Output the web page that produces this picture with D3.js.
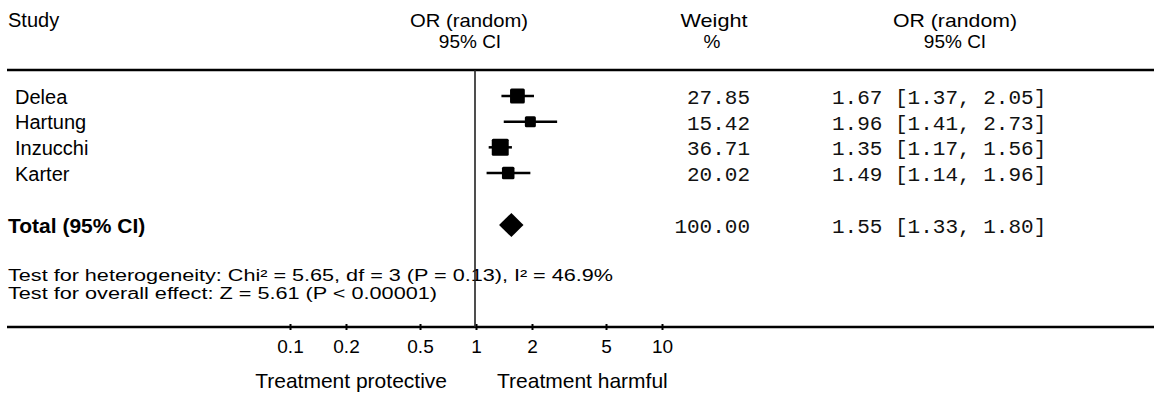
<!DOCTYPE html>
<html><head><meta charset="utf-8">
<script src="https://cdn.jsdelivr.net/npm/d3@7"></script>
<style>
html,body{margin:0;padding:0;background:#fff;}
svg{display:block;}
.sans{font-family:"Liberation Sans",Arial,sans-serif;}
.mono{font-family:"Liberation Mono","Courier New",monospace;}
</style></head>
<body>
<svg id="c" width="1154" height="394"></svg>
<script>
// ---- data ----
const studies = ["Delea", "Hartung", "Inzucchi", "Karter"];
const orValues = [1.67, 1.96, 1.35, 1.49];
const ciLow = [1.37, 1.41, 1.17, 1.14];
const ciHigh = [2.05, 2.73, 1.56, 1.96];
const weights = [27.85, 15.42, 36.71, 20.02];
const weightLabels = ["27.85", "15.42", "36.71", "20.02"];
const ciLabels = ["1.67 [1.37, 2.05]", "1.96 [1.41, 2.73]", "1.35 [1.17, 1.56]", "1.49 [1.14, 1.96]"];
const total = {label: "Total (95% CI)", or: 1.55, lo: 1.33, hi: 1.80, weight: "100.00", ci: "1.55 [1.33, 1.80]"};
const tickValues = [0.1, 0.2, 0.5, 1, 2, 5, 10];
const tickLabels = ["0.1", "0.2", "0.5", "1", "2", "5", "10"];
const heterogeneityText = "Test for heterogeneity: Chi\u00B2 = 5.65, df = 3 (P = 0.13), I\u00B2 = 46.9%";
const overallText = "Test for overall effect: Z = 5.61 (P < 0.00001)";
const axisLeftLabel = "Treatment protective";
const axisRightLabel = "Treatment harmful";

// ---- layout ----
const svg = d3.select("#c");
const x = d3.scaleLog().domain([0.1, 10]).range([290, 662]);
const y = d3.scalePoint().domain(studies).range([96, 173]);
const yTotal = 225;
const size = d3.scaleSqrt().domain([0, 100]).range([0, 28]);
const topLine = 70, axisY = 327;

// header
const hdr = svg.append("g").attr("class", "sans").attr("font-size", 19).attr("fill", "#000");
hdr.append("text").attr("x", 8).attr("y", 27).attr("font-size", 20).text("Study");
hdr.append("text").attr("x", 469).attr("y", 27).attr("text-anchor", "middle").attr("textLength", 118).attr("lengthAdjust", "spacingAndGlyphs").text("OR (random)");
hdr.append("text").attr("x", 470).attr("y", 48).attr("text-anchor", "middle").text("95% CI");
hdr.append("text").attr("x", 714).attr("y", 27).attr("text-anchor", "middle").attr("textLength", 67).attr("lengthAdjust", "spacingAndGlyphs").text("Weight");
hdr.append("text").attr("x", 712).attr("y", 48).attr("text-anchor", "middle").text("%");
hdr.append("text").attr("x", 955).attr("y", 27).attr("text-anchor", "middle").attr("textLength", 124).attr("lengthAdjust", "spacingAndGlyphs").text("OR (random)");
hdr.append("text").attr("x", 955).attr("y", 48).attr("text-anchor", "middle").text("95% CI");

// top rule
svg.append("line").attr("x1", 7).attr("x2", 1154).attr("y1", topLine).attr("y2", topLine)
  .attr("stroke", "#000").attr("stroke-width", 2.5);

// study names
const rows = svg.append("g");
rows.selectAll("text.name").data(studies).join("text")
  .attr("class", "sans name").attr("font-size", 20)
  .attr("x", 15).attr("y", d => y(d) + 7.5).text(d => d);

// CI lines
rows.selectAll("line.ci").data(studies).join("line")
  .attr("class", "ci")
  .attr("x1", (d, i) => x(ciLow[i])).attr("x2", (d, i) => x(ciHigh[i]))
  .attr("y1", d => y(d)).attr("y2", d => y(d))
  .attr("stroke", "#000").attr("stroke-width", 2.5);

// squares
rows.selectAll("rect.box").data(studies).join("rect")
  .attr("class", "box")
  .attr("x", (d, i) => x(orValues[i]) - size(weights[i]) / 2)
  .attr("y", (d, i) => y(d) - size(weights[i]) / 2)
  .attr("width", (d, i) => size(weights[i]))
  .attr("height", (d, i) => size(weights[i]))
  .attr("rx", 1.5)
  .attr("fill", "#000");

// weights & CI text
rows.selectAll("text.w").data(studies).join("text")
  .attr("class", "mono w").attr("font-size", 21).attr("fill", "#111")
  .attr("x", 750).attr("text-anchor", "end").attr("y", d => y(d) + 8)
  .text((d, i) => weightLabels[i]);
rows.selectAll("text.cil").data(studies).join("text")
  .attr("class", "mono cil").attr("font-size", 21).attr("fill", "#111")
  .attr("x", 832).attr("y", d => y(d) + 8)
  .text((d, i) => ciLabels[i]);

// total
svg.append("text").attr("class", "sans").attr("font-size", 21).attr("font-weight", "bold")
  .attr("x", 8).attr("y", yTotal + 7.5).text(total.label);
const dh = 12;
svg.append("path")
  .attr("d", `M${x(total.lo)},${yTotal} L${x(total.or)},${yTotal - dh} L${x(total.hi)},${yTotal} L${x(total.or)},${yTotal + dh} Z`)
  .attr("fill", "#000");
svg.append("text").attr("class", "mono").attr("font-size", 21).attr("fill", "#111")
  .attr("x", 750).attr("text-anchor", "end").attr("y", yTotal + 8).text(total.weight);
svg.append("text").attr("class", "mono").attr("font-size", 21).attr("fill", "#111")
  .attr("x", 832).attr("y", yTotal + 8).text(total.ci);

// tests
svg.append("text").attr("class", "sans").attr("font-size", 16).attr("x", 8).attr("y", 281)
  .attr("textLength", 605).attr("lengthAdjust", "spacingAndGlyphs").text(heterogeneityText);
svg.append("text").attr("class", "sans").attr("font-size", 16).attr("x", 8).attr("y", 299)
  .attr("textLength", 429).attr("lengthAdjust", "spacingAndGlyphs").text(overallText);

// axis
svg.append("line").attr("x1", 7).attr("x2", 1154).attr("y1", axisY).attr("y2", axisY)
  .attr("stroke", "#000").attr("stroke-width", 2.5);
const ax = d3.axisBottom(x).tickValues(tickValues).tickFormat((d, i) => tickLabels[i]).tickSize(6).tickPadding(9.5);
const axg = svg.append("g").attr("transform", `translate(0,${axisY - 3})`).call(ax);
axg.select(".domain").remove();
axg.selectAll(".tick line").attr("stroke", "#000").attr("stroke-width", 2);
axg.selectAll(".tick text").attr("font-family", "Liberation Sans, Arial, sans-serif").attr("font-size", 19).attr("fill", "#000");

// vertical line of no effect
svg.append("line").attr("x1", x(1) - 1).attr("x2", x(1) - 1).attr("y1", topLine).attr("y2", axisY)
  .attr("stroke", "#222").attr("stroke-width", 1.6);

// axis labels
svg.append("text").attr("class", "sans").attr("font-size", 21).attr("text-anchor", "end")
  .attr("x", x(1) - 29).attr("y", 388).text(axisLeftLabel);
svg.append("text").attr("class", "sans").attr("font-size", 21)
  .attr("x", x(1) + 21).attr("y", 388).text(axisRightLabel);
</script>
</body></html>
